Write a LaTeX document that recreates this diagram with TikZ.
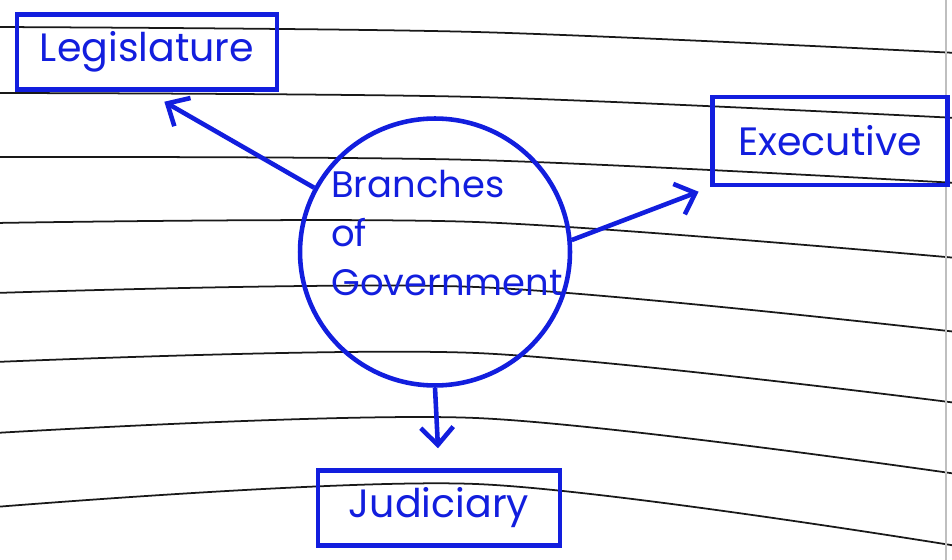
\documentclass[tikz,border=0pt]{standalone}
\usepackage{fontspec}
\setmainfont{Poppins}
\usepackage{tikz}
\usetikzlibrary{arrows.meta,shapes.geometric}
\definecolor{pen}{RGB}{18,30,222}
\definecolor{ruleink}{RGB}{25,25,25}

\begin{document}
\begin{tikzpicture}[x=0.02cm,y=-0.02cm,
  rule/.style={draw=ruleink,line width=1pt},
  branchbox/.style={draw=pen,line width=2.6pt,text=pen,minimum height=1.5cm,inner sep=2pt,font=\fontsize{22.5}{26}\selectfont},
  hub/.style={draw=pen,line width=2.6pt,ellipse,minimum width=5.4cm,minimum height=5.34cm,inner sep=0pt},
  hubtext/.style={text=pen,align=left,inner sep=0pt,font=\fontsize{21}{28}\selectfont},
  arr/.style={draw=pen,line width=2.6pt,-{Straight Barb[length=3.5mm,width=6.5mm]}}]
\useasboundingbox (0,0) rectangle (952,560);
\fill[white] (0,0) rectangle (952,560);
\draw[rule] plot[smooth] coordinates {(-5,27) (476,32) (957,53)};
\draw[rule] plot[smooth] coordinates {(-5,93) (476,97) (957,118)};
\draw[rule] plot[smooth] coordinates {(-5,157) (476,160) (957,183)};
\draw[rule] plot[smooth] coordinates {(-5,223) (476,222) (957,258)};
\draw[rule] plot[smooth] coordinates {(-5,293) (476,287) (957,332)};
\draw[rule] plot[smooth] coordinates {(-5,362) (476,353) (957,403)};
\draw[rule] plot[smooth] coordinates {(-5,433) (476,418) (957,474)};
\draw[rule] plot[smooth] coordinates {(-5,507) (476,484) (957,546)};
\draw[black!25,line width=0.6pt] (946,0) -- (946,560);
\node[branchbox,minimum width=5.2cm] (leg) at (147,52) {Legislature};
\node[branchbox,minimum width=4.7cm,minimum height=1.76cm] (exe) at (830,141) {Executive};
\node[branchbox,minimum width=4.84cm] (jud) at (439,508) {Judiciary};
\node[hub] (circ) at (435,252) {};
\node[hubtext,anchor=west] (hubt) at (331,233) {Branches\\of\\Government};
\draw[arr,shorten >=0.4cm] (circ.152) -- (leg.south);
\draw[arr,shorten >=0.25cm] (circ.5) -- (exe.south west);
\draw[arr,shorten >=0.4cm] (circ.south) -- (jud.north);
\end{tikzpicture}
\end{document}
